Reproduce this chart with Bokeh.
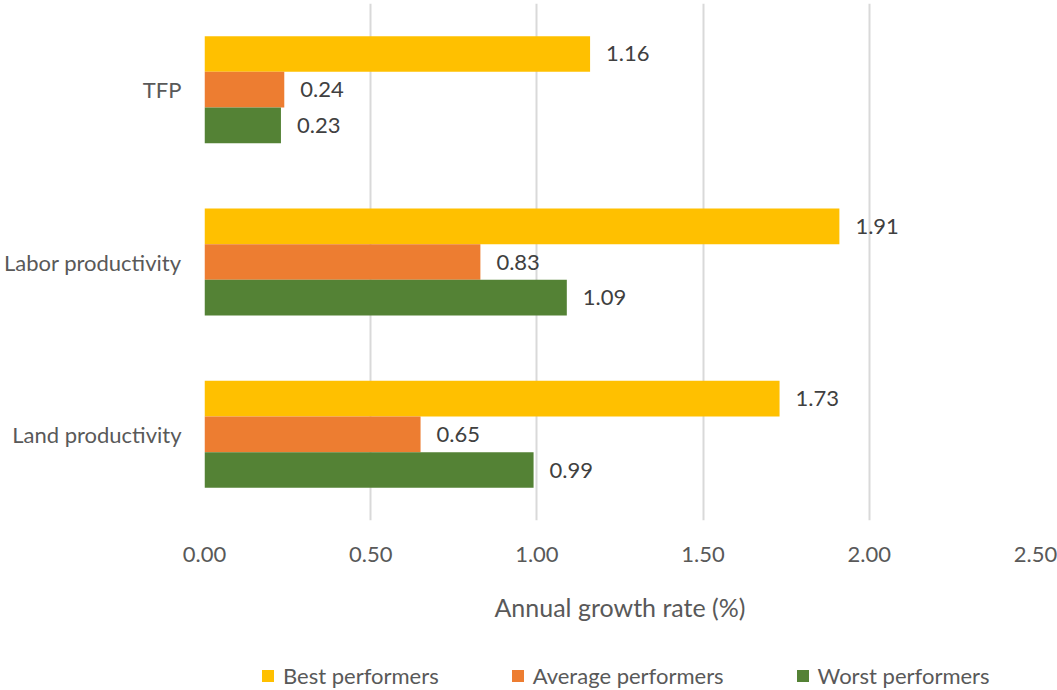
from bokeh.plotting import figure
from bokeh.models import ColumnDataSource, FactorRange, FixedTicker, NumeralTickFormatter, Legend, LegendItem
from bokeh.layouts import column
from bokeh.transform import dodge
from bokeh.core.properties import value
from bokeh.embed import file_html
from bokeh.resources import INLINE

# Productivity measures (bottom to top on the axis)
measures = ["Land productivity", "Labor productivity", "TFP"]
best = [1.73, 1.91, 1.16]
average = [0.65, 0.83, 0.24]
worst = [0.99, 1.09, 0.23]
x_ticks = [0.0, 0.5, 1.0, 1.5, 2.0, 2.5]
series_names = ["Best performers", "Average performers", "Worst performers"]
series_colors = ["#FFC000", "#ED7D31", "#548235"]

FONT = "Lato"
GREY = "#595959"
LABEL_SIZE = "22px"
LEFT, RIGHT = 203, 22

src = ColumnDataSource(dict(
    measure=measures,
    best=best, average=average, worst=worst,
    best_lbl=[f"{v:.2f}" for v in best],
    average_lbl=[f"{v:.2f}" for v in average],
    worst_lbl=[f"{v:.2f}" for v in worst],
))

p = figure(
    width=1057, height=640,
    y_range=FactorRange(*measures),
    x_range=(0, 2.5),
    output_backend="svg", toolbar_location=None,
    min_border_left=LEFT, min_border_right=RIGHT,
    min_border_top=3, min_border_bottom=120,
)
p.outline_line_color = None

bar_h = 0.207
offsets = [bar_h, 0.0, -bar_h]
for key, color, off in zip(["best", "average", "worst"], series_colors, offsets):
    p.hbar(y=dodge("measure", off, range=p.y_range), right=key, left=0,
           height=bar_h, source=src, fill_color=color, line_color=None)
    p.text(x=key, y=dodge("measure", off, range=p.y_range), text=key + "_lbl",
           source=src, x_offset=16, text_align="left", text_baseline="middle",
           text_font=value(FONT), text_font_size=LABEL_SIZE, text_color="#404040")

# x axis
p.xaxis.ticker = FixedTicker(ticks=x_ticks)
p.xaxis.formatter = NumeralTickFormatter(format="0.00")
p.xaxis.axis_line_color = None
p.xaxis.major_tick_line_color = None
p.xaxis.minor_tick_line_color = None
p.xaxis.major_label_standoff = 20
p.xaxis.major_label_text_font = FONT
p.xaxis.major_label_text_font_size = LABEL_SIZE
p.xaxis.major_label_text_color = GREY
p.xaxis.axis_label = "Annual growth rate (%)"
p.xaxis.axis_label_standoff = 27
p.xaxis.axis_label_text_font = FONT
p.xaxis.axis_label_text_font_style = "normal"
p.xaxis.axis_label_text_font_size = "25px"
p.xaxis.axis_label_text_color = GREY

# y axis
p.yaxis.axis_line_color = None
p.yaxis.major_tick_line_color = None
p.yaxis.major_label_standoff = 17
p.yaxis.major_label_text_font = FONT
p.yaxis.major_label_text_font_size = LABEL_SIZE
p.yaxis.major_label_text_color = GREY

# grid
p.ygrid.grid_line_color = None
p.xgrid.grid_line_color = "#d9d9d9"
p.xgrid.grid_line_width = 2

# legend strip under the chart; each entry uses a zero-width bar as its swatch source
leg = figure(width=1057, height=50, x_range=(0, 1), y_range=(0, 1),
             output_backend="svg", toolbar_location=None,
             min_border_left=LEFT, min_border_right=RIGHT,
             min_border_top=0, min_border_bottom=0)
leg.outline_line_color = None
leg.axis.visible = False
leg.grid.visible = False
items = []
for name, color in zip(series_names, series_colors):
    r = leg.hbar(y=[0.5], left=[0], right=[0], height=0.0,
                 fill_color=color, line_color=None)
    items.append(LegendItem(label=name, renderers=[r]))
legend = Legend(items=items, orientation="horizontal", location=(56, 1),
                glyph_width=15, glyph_height=15, label_standoff=8, spacing=71,
                label_text_font=FONT, label_text_font_size=LABEL_SIZE,
                label_text_color=GREY, border_line_color=None,
                background_fill_alpha=0, margin=0, padding=0)
leg.add_layout(legend)

open("out.html", "w").write(file_html(column(p, leg, spacing=0), INLINE))
